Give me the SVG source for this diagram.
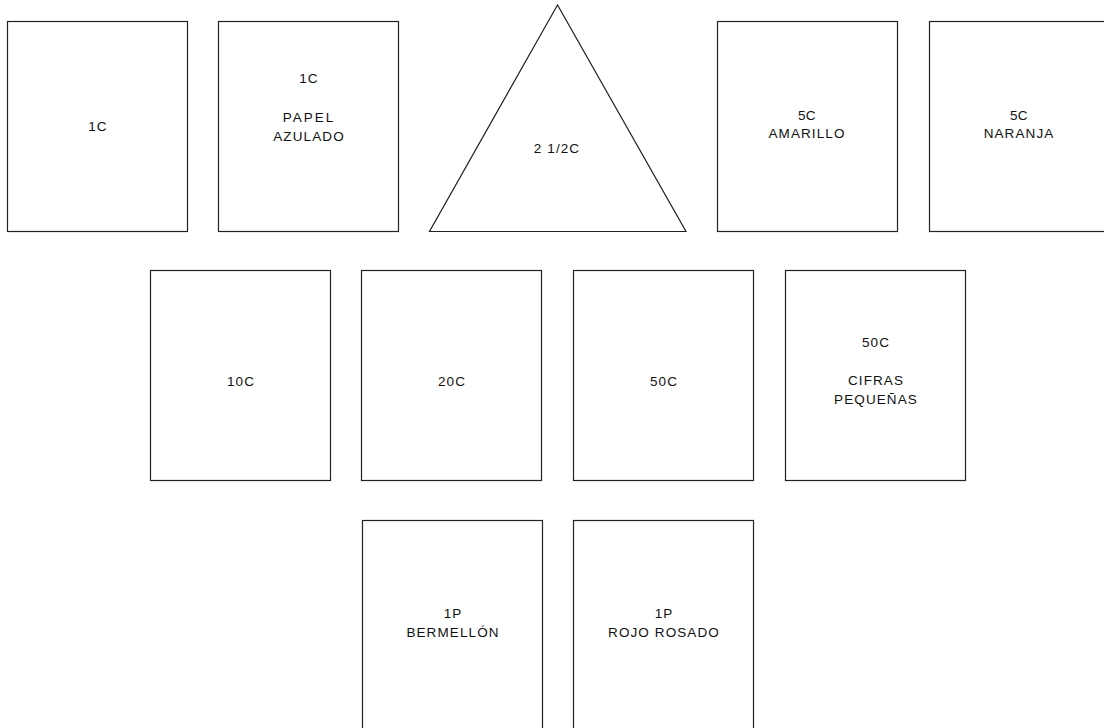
<svg xmlns="http://www.w3.org/2000/svg" width="1104" height="728" viewBox="0 0 1104 728">
<style>
.b{fill:#fff;stroke:#222;stroke-width:1.2}
.t{font-family:"Liberation Sans",Arial,sans-serif;font-size:13.5px;fill:#111;text-anchor:middle;letter-spacing:1.1px}
.n{letter-spacing:0.3px}
</style>
<rect width="1104" height="728" fill="#fff"/>
<g id="n1c"><rect class="b" x="7.5" y="21.5" width="180" height="210"/><text class="t" x="98" y="131">1C</text></g>
<g id="n1c-azulado"><rect class="b" x="218.5" y="21.5" width="180" height="210"/><text class="t" x="309" y="83">1C</text><text class="t" x="309" y="122" style="letter-spacing:2px">PAPEL</text><text class="t" x="309" y="141">AZULADO</text></g>
<g id="n2-5c"><polygon class="b" points="557.5,5 429.5,231.5 686,231.5"/><text class="t" x="557" y="153">2 1/2C</text></g>
<g id="n5c-amarillo"><rect class="b" x="717.5" y="21.5" width="180" height="210"/><text class="t n" x="807" y="120">5C</text><text class="t" x="807" y="138">AMARILLO</text></g>
<g id="n5c-naranja"><rect class="b" x="929.5" y="21.5" width="180" height="210"/><text class="t n" x="1019" y="120">5C</text><text class="t" x="1019" y="138">NARANJA</text></g>
<g id="n10c"><rect class="b" x="150.5" y="270.5" width="180" height="210"/><text class="t" x="241" y="386">10C</text></g>
<g id="n20c"><rect class="b" x="361.5" y="270.5" width="180" height="210"/><text class="t" x="452" y="386">20C</text></g>
<g id="n50c"><rect class="b" x="573.5" y="270.5" width="180" height="210"/><text class="t" x="664" y="386">50C</text></g>
<g id="n50c-cifras"><rect class="b" x="785.5" y="270.5" width="180" height="210"/><text class="t" x="876" y="347">50C</text><text class="t" x="876" y="385">CIFRAS</text><text class="t" x="876" y="404">PEQUEÑAS</text></g>
<g id="n1p-bermellon"><rect class="b" x="362.5" y="520.5" width="180" height="220"/><text class="t" x="453" y="618">1P</text><text class="t" x="453" y="637">BERMELLÓN</text></g>
<g id="n1p-rojo"><rect class="b" x="573.5" y="520.5" width="180" height="220"/><text class="t" x="664" y="618">1P</text><text class="t" x="664" y="637">ROJO ROSADO</text></g>
<g id="connectors"></g>
</svg>
